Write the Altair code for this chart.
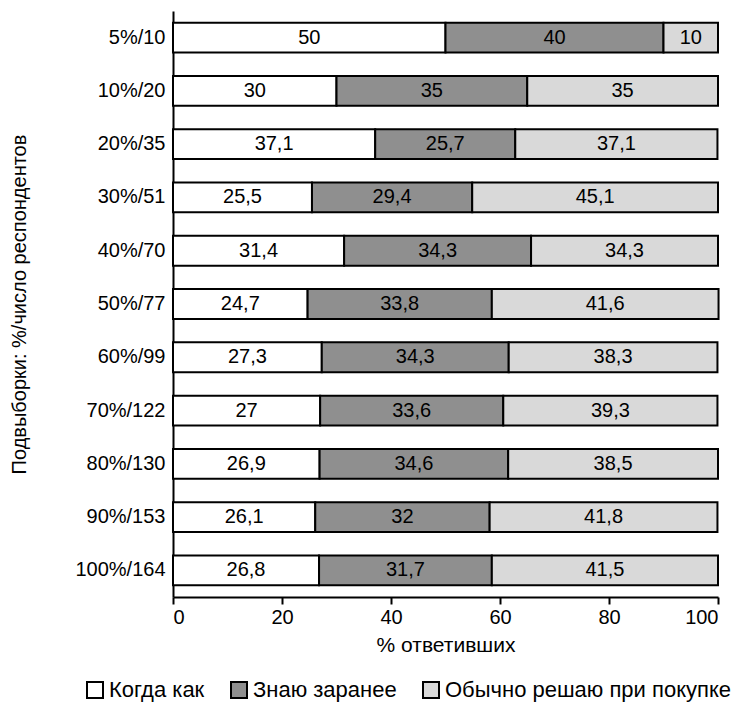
import altair as alt
import pandas as pd

categories = ["5%/10", "10%/20", "20%/35", "30%/51", "40%/70", "50%/77",
              "60%/99", "70%/122", "80%/130", "90%/153", "100%/164"]
kogda_kak = [50, 30, 37.1, 25.5, 31.4, 24.7, 27.3, 27, 26.9, 26.1, 26.8]
znayu_zaranee = [40, 35, 25.7, 29.4, 34.3, 33.8, 34.3, 33.6, 34.6, 32, 31.7]
obychno_reshayu = [10, 35, 37.1, 45.1, 34.3, 41.6, 38.3, 39.3, 38.5, 41.8, 41.5]
series = ["Когда как", "Знаю заранее", "Обычно решаю при покупке"]
fills = ["#ffffff", "#8f8f8f", "#d9d9d9"]
x_ticks = [0, 20, 40, 60, 80, 100]

rows = []
for i, c in enumerate(categories):
    for j, vals in enumerate([kogda_kak, znayu_zaranee, obychno_reshayu]):
        v = vals[i]
        rows.append({"cat": c, "series": series[j], "order": j, "value": v,
                     "label": f"{v:g}".replace(".", ",")})
df = pd.DataFrame(rows)

FONT = "Liberation Sans"

base = alt.Chart(df).transform_stack(
    stack="value", groupby=["cat"], as_=["x0", "x1"],
    sort=[alt.SortField("order", order="ascending")]
).transform_calculate(mid="(datum.x0 + datum.x1) / 2")

yenc = alt.Y("cat:N", sort=categories,
             scale=alt.Scale(paddingInner=0.44, paddingOuter=0.22),
             axis=alt.Axis(title="Подвыборки: %/число респондентов",
                           ticks=False, labelPadding=8, labelFontSize=20,
                           labelColor="black", domainColor="black", domainWidth=2,
                           titleFontSize=20, titleFontWeight="normal", titleColor="black",
                           titleAngle=270, titleX=-154, titleY=293,
                           titleAlign="center", titleBaseline="middle"))

bars = base.mark_bar(stroke="black", strokeWidth=2).encode(
    x=alt.X("x0:Q", scale=alt.Scale(domain=[0, 100], nice=False),
            axis=alt.Axis(title="% ответивших", values=x_ticks, grid=False,
                          tickSize=7, tickWidth=2, tickColor="black",
                          domainColor="black", domainWidth=2,
                          labelFontSize=20, labelColor="black", labelPadding=3,
                          titleFontSize=21, titleFontWeight="normal", titleColor="black",
                          titlePadding=7)),
    x2="x1:Q",
    y=yenc,
    fill=alt.Fill("series:N", sort=series,
                  scale=alt.Scale(domain=series, range=fills),
                  legend=alt.Legend(title=None, orient="none", legendX=-89, legendY=668,
                                    direction="horizontal", columns=3,
                                    symbolType="square", symbolSize=256,
                                    symbolStrokeColor="black", symbolStrokeWidth=2,
                                    labelFontSize=22, labelColor="black", labelLimit=400,
                                    labelOffset=3, columnPadding=22)),
)

labels = base.mark_text(fontSize=20, color="black", font=FONT).encode(
    x="mid:Q",
    y=alt.Y("cat:N", sort=categories),
    text="label:N",
)

chart = (bars + labels).properties(
    width=545, height=586,
    autosize=alt.AutoSizeParams(type="none"),
    padding={"left": 165, "top": 3, "right": 16, "bottom": 105},
).configure(font=FONT).configure_view(stroke=None)

chart.save("out.html", embed_options={"renderer": "svg", "actions": False})
